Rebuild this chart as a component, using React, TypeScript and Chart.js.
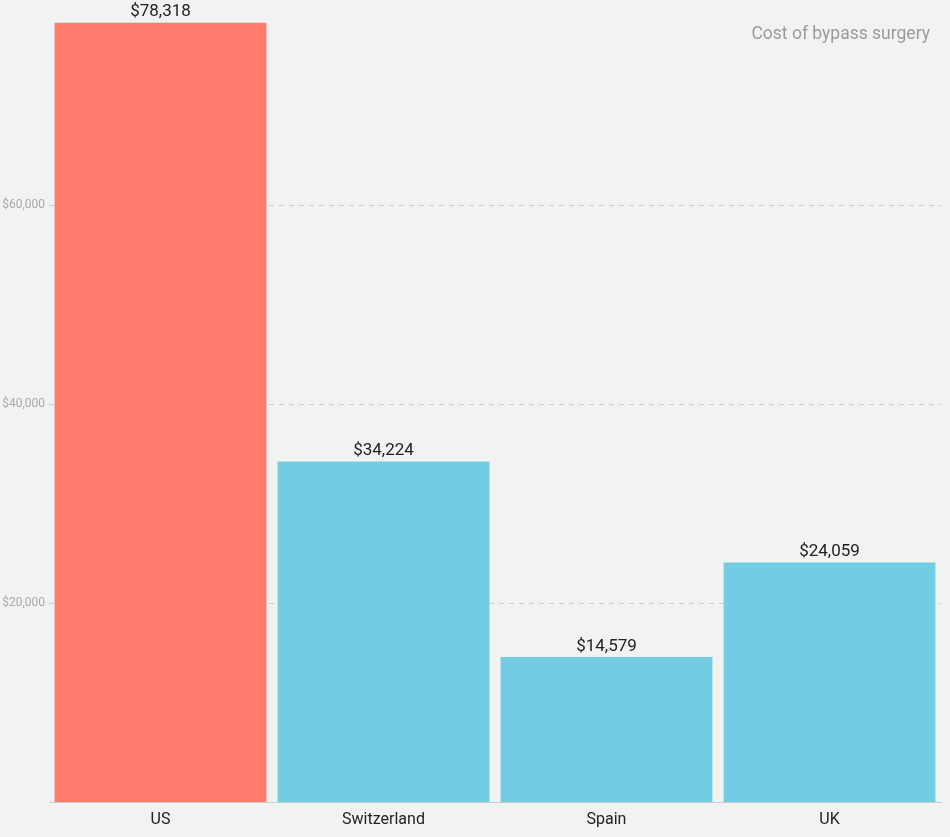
import React, { useEffect, useRef } from "react";
import { Chart, registerables } from "chart.js";

Chart.register(...registerables);

const categories = ["US", "Switzerland", "Spain", "UK"];
const costs = [78318, 34224, 14579, 24059];
const barColors = ["#FF7B6B", "#72CDE3", "#72CDE3", "#72CDE3"];
const yTicks = [20000, 40000, 60000];
const titleText = "Cost of bypass surgery";

const FONT = "Roboto, 'Liberation Sans', sans-serif";

const fmt = (v: number) => "$" + v.toLocaleString("en-US");

const labelPlugin = {
  id: "valueLabels",
  afterDatasetsDraw(chart: any) {
    const ctx = chart.ctx;
    const meta = chart.getDatasetMeta(0);
    ctx.save();
    ctx.font = `17px ${FONT}`;
    ctx.fillStyle = "#222";
    ctx.textAlign = "center";
    ctx.textBaseline = "bottom";
    meta.data.forEach((bar: any, i: number) => {
      ctx.fillText(fmt(costs[i]), bar.x, bar.y - 2);
    });
    ctx.restore();
  },
  afterDraw(chart: any) {
    const ctx = chart.ctx;
    ctx.save();
    ctx.font = `17.5px ${FONT}`;
    ctx.fillStyle = "#9a9a9a";
    ctx.textAlign = "right";
    ctx.textBaseline = "middle";
    ctx.fillText(titleText, chart.width - 20, 35);
    ctx.restore();
  },
};

export default function App() {
  const ref = useRef<HTMLCanvasElement>(null);
  useEffect(() => {
    document.body.style.margin = "0";
    document.body.style.background = "#F1F3F2";
    const chart = new Chart(ref.current!, {
      type: "bar",
      data: {
        labels: categories,
        datasets: [
          {
            data: costs,
            backgroundColor: barColors,
            barPercentage: 0.95,
            categoryPercentage: 1,
          },
        ],
      },
      options: {
        animation: false,
        responsive: false,
        maintainAspectRatio: false,
        layout: { padding: { top: 6, right: 9, left: 0, bottom: 0 } },
        plugins: { legend: { display: false }, tooltip: { enabled: false } },
        scales: {
          x: {
            grid: { display: false },
            border: { display: true, color: "#cccccc" },
            ticks: { color: "#222", font: { family: FONT, size: 16 }, padding: 0 },
            afterFit(scale: any) {
              scale.height = 35;
            },
          },
          y: {
            min: 0,
            max: 80000,
            afterBuildTicks(scale: any) {
              scale.ticks = yTicks.map((v) => ({ value: v }));
            },
            grid: {
              color: "#cccccc",
              drawTicks: false,
            },
            border: { display: false, dash: [5, 5] },
            ticks: {
              color: "#a8a8a8",
              font: { family: FONT, size: 12 },
              padding: 4,
              callback: (v: any) => fmt(Number(v)),
            },
            afterFit(scale: any) {
              scale.width = 49;
              scale.paddingTop = 0;
              scale.paddingBottom = 0;
            },
          },
        },
      },
      plugins: [labelPlugin],
    });
    return () => chart.destroy();
  }, []);
  return (
    <div style={{ width: 950, height: 837, background: "#F1F3F2" }}>
      <canvas ref={ref} width={950} height={837} style={{ display: "block" }} />
    </div>
  );
}
